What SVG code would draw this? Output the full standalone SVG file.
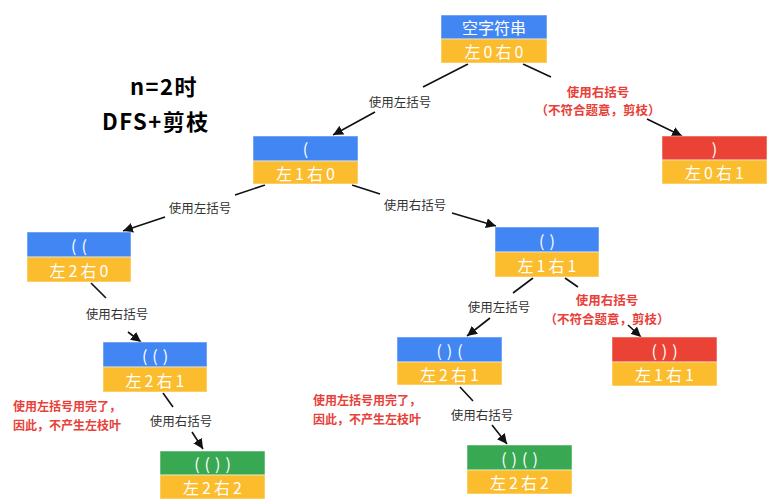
<svg xmlns="http://www.w3.org/2000/svg" width="769" height="500" viewBox="0 0 769 500">
<style>
.bl{fill:#4286f4}
.ye{fill:#fbbc2d}
.rd{fill:#ea4335}
.gr{fill:#38a852}
.box{stroke:#ffffff;stroke-opacity:0.5;stroke-width:1}
.nt{font-family:"Noto Sans CJK SC","Noto Sans",sans-serif;font-size:16px;fill:#ffffff;text-anchor:middle;dominant-baseline:central}
.par{letter-spacing:5px}
.cnt{letter-spacing:3px}
.el{font-family:"Noto Sans CJK SC","Noto Sans",sans-serif;font-size:12.5px;fill:#333333;text-anchor:middle;dominant-baseline:central}
.rl{font-family:"Noto Sans CJK SC","Noto Sans",sans-serif;font-size:12.5px;font-weight:bold;fill:#e8413a;dominant-baseline:central}
.rn{font-size:12px}
.ttl{font-family:"Noto Sans CJK SC","Noto Sans",sans-serif;font-size:22px;font-weight:bold;fill:#000000;letter-spacing:1.5px}
.ln{fill:none;stroke:#111111;stroke-width:1.6}
</style>
<defs>
<marker id="arr" markerUnits="userSpaceOnUse" markerWidth="12" markerHeight="10" refX="10" refY="5" orient="auto">
<path d="M0,0 L10,5 L0,10 Z" fill="#111111"/>
</marker>
</defs>
<g id="title">
<text class="ttl" x="130" y="95">n=2时</text>
<text class="ttl" x="102" y="130">DFS+剪枝</text>
</g>
<g id="connectors">
<path class="ln" d="M468,64 L423,87 M375,112 L333,135" marker-end="url(#arr)"/>
<path class="ln" d="M523,64 L551,77 M647,119 L682,136" marker-end="url(#arr)"/>
<path class="ln" d="M265,185 L235,195 M165,217 L123,231" marker-end="url(#arr)"/>
<path class="ln" d="M352,185 L380,194 M452,213 L496,226" marker-end="url(#arr)"/>
<path class="ln" d="M91,283 L106,298 M128,332 L141,342" marker-end="url(#arr)"/>
<path class="ln" d="M163,393 L173,407 M192,432 L203,449" marker-end="url(#arr)"/>
<path class="ln" d="M533,278 L513,293 M490,318 L467,336" marker-end="url(#arr)"/>
<path class="ln" d="M565,278 L578,287 M628,325 L641,337" marker-end="url(#arr)"/>
<path class="ln" d="M460,387 L473,401 M492,425 L507,444" marker-end="url(#arr)"/>
<text class="el" x="400" y="101">使用左括号</text>
<text class="rl" x="598" y="91" text-anchor="middle">使用右括号</text>
<text class="rl" x="598" y="109" text-anchor="middle">（不符合题意，剪枝）</text>
<text class="el" x="200" y="207">使用左括号</text>
<text class="el" x="415" y="204">使用右括号</text>
<text class="el" x="117" y="313">使用右括号</text>
<text class="el" x="181" y="420">使用右括号</text>
<text class="el" x="499" y="306">使用左括号</text>
<text class="rl" x="607" y="299" text-anchor="middle">使用右括号</text>
<text class="rl" x="607" y="318" text-anchor="middle">（不符合题意，剪枝）</text>
<text class="el" x="482" y="414">使用右括号</text>
</g>
<g id="note1">
<text class="rl rn" x="13" y="405">使用左括号用完了，</text>
<text class="rl rn" x="13" y="424">因此，不产生左枝叶</text>
</g>
<g id="note2">
<text class="rl rn" x="313" y="399">使用左括号用完了，</text>
<text class="rl rn" x="313" y="418">因此，不产生左枝叶</text>
</g>
<g id="node-root">
<rect class="bl box" x="441" y="15" width="106" height="24"/>
<rect class="ye box" x="441" y="39" width="106" height="24"/>
<text class="nt" x="494" y="27">空字符串</text>
<text class="nt cnt" x="495.5" y="51">左0右0</text>
</g>
<g id="node-l1">
<rect class="bl box" x="253" y="136" width="105" height="25"/>
<rect class="ye box" x="253" y="161" width="105" height="23"/>
<text class="nt" x="305.5" y="148">(</text>
<text class="nt cnt" x="307" y="172.5">左1右0</text>
</g>
<g id="node-r-cut1">
<rect class="rd box" x="662" y="136" width="105" height="24"/>
<rect class="ye box" x="662" y="160" width="105" height="24"/>
<text class="nt" x="714.5" y="148">)</text>
<text class="nt cnt" x="716" y="172">左0右1</text>
</g>
<g id="node-ll">
<rect class="bl box" x="27" y="232" width="104" height="25"/>
<rect class="ye box" x="27" y="257" width="104" height="25"/>
<text class="nt par" x="81.5" y="244.5">((</text>
<text class="nt cnt" x="80.5" y="269.5">左2右0</text>
</g>
<g id="node-lr">
<rect class="bl box" x="495" y="227" width="104" height="25"/>
<rect class="ye box" x="495" y="252" width="104" height="25"/>
<text class="nt par" x="549.5" y="239.5">()</text>
<text class="nt cnt" x="548.5" y="264.5">左1右1</text>
</g>
<g id="node-llr">
<rect class="bl box" x="103" y="342" width="104" height="25"/>
<rect class="ye box" x="103" y="367" width="104" height="25"/>
<text class="nt par" x="157.5" y="354.5">(()</text>
<text class="nt cnt" x="156.5" y="379.5">左2右1</text>
</g>
<g id="node-llrr">
<rect class="gr box" x="160" y="451" width="105" height="24"/>
<rect class="ye box" x="160" y="475" width="105" height="24"/>
<text class="nt par" x="215" y="463">(())</text>
<text class="nt cnt" x="214" y="487">左2右2</text>
</g>
<g id="node-lrl">
<rect class="bl box" x="397" y="337" width="105" height="25"/>
<rect class="ye box" x="397" y="362" width="105" height="23"/>
<text class="nt par" x="452" y="349.5">()(</text>
<text class="nt cnt" x="451" y="373.5">左2右1</text>
</g>
<g id="node-lrlr">
<rect class="gr box" x="467" y="445" width="105" height="25"/>
<rect class="ye box" x="467" y="470" width="105" height="24"/>
<text class="nt par" x="522" y="457.5">()()</text>
<text class="nt cnt" x="521" y="482">左2右2</text>
</g>
<g id="node-r-cut2">
<rect class="rd box" x="612" y="337" width="105" height="25"/>
<rect class="ye box" x="612" y="362" width="105" height="24"/>
<text class="nt par" x="667" y="349.5">())</text>
<text class="nt cnt" x="666" y="374">左1右1</text>
</g>
</svg>
